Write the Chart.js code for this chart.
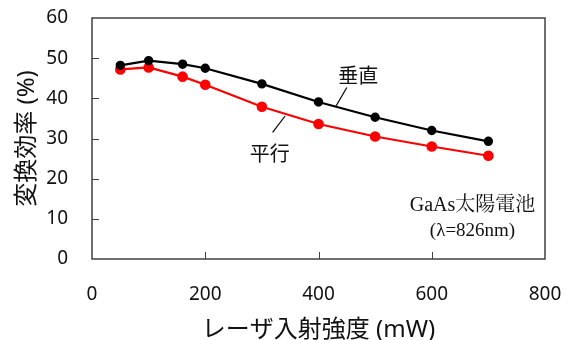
<!DOCTYPE html>
<html><head><meta charset="utf-8">
<script src="https://cdn.jsdelivr.net/npm/chart.js@4/dist/chart.umd.min.js"></script>
<style>html,body{margin:0;padding:0;background:#fff}#wrap{width:572px;height:340px}</style>
</head><body><div id="wrap"><canvas id="c" width="572" height="340"></canvas></div>
<script>
const power = [50, 100, 160, 200, 300, 400, 500, 600, 700];
const vertical = [48.2, 49.4, 48.5, 47.5, 43.6, 39.1, 35.3, 32.0, 29.3];
const parallel = [47.2, 47.7, 45.4, 43.4, 37.9, 33.6, 30.5, 28.0, 25.7];
const seriesNames = ['垂直', '平行'];
const xTicks = [0, 200, 400, 600, 800];
const yTicks = [0, 10, 20, 30, 40, 50, 60];
const xTitle = 'レーザ入射強度 (mW)';
const yTitle = '変換効率 (%)';
const noteLines = ['GaAs太陽電池', '(λ=826nm)'];
// label anchor and leader line in data coordinates
const labelPos = [{x: 470, y: 45.3}, {x: 314, y: 25.8}];
const leaders = [[{x: 431, y: 38.1}, {x: 450, y: 42.7}], [{x: 319, y: 31.5}, {x: 341, y: 35.6}]];
const notePos = {x: 672, y: 13.3};

const sans = '"Noto Sans", "Noto Sans CJK JP", sans-serif';
const serif = '"Liberation Serif", "Noto Serif CJK JP", "Noto Sans CJK JP", serif';

const decor = {
  id: 'decor',
  afterDatasetsDraw(chart) {
    const {ctx, chartArea: a, scales: {x, y}} = chart;
    ctx.save();
    ctx.strokeStyle = '#404040';
    ctx.lineWidth = 1.5;
    ctx.strokeRect(a.left, a.top, a.right - a.left, a.bottom - a.top);
    ctx.lineWidth = 1;
    ctx.beginPath();
    yTicks.slice(1, -1).forEach(v => { const p = Math.round(y.getPixelForValue(v)) + 0.5; ctx.moveTo(a.left, p); ctx.lineTo(a.left + 7, p); });
    xTicks.slice(1, -1).forEach(v => { const p = Math.round(x.getPixelForValue(v)) + 0.5; ctx.moveTo(p, a.bottom); ctx.lineTo(p, a.bottom - 7); });
    ctx.stroke();
    ctx.strokeStyle = '#000';
    ctx.lineWidth = 1.2;
    leaders.forEach(l => {
      ctx.beginPath();
      ctx.moveTo(x.getPixelForValue(l[0].x), y.getPixelForValue(l[0].y));
      ctx.lineTo(x.getPixelForValue(l[1].x), y.getPixelForValue(l[1].y));
      ctx.stroke();
    });
    ctx.fillStyle = '#111';
    ctx.textAlign = 'center';
    ctx.textBaseline = 'middle';
    ctx.font = '20px ' + sans;
    seriesNames.forEach((n, i) => ctx.fillText(n, x.getPixelForValue(labelPos[i].x), y.getPixelForValue(labelPos[i].y)));
    const nx = x.getPixelForValue(notePos.x), ny = y.getPixelForValue(notePos.y);
    ctx.font = '20px ' + serif;
    ctx.fillText(noteLines[0], nx, ny);
    ctx.font = '19px ' + serif;
    ctx.fillText(noteLines[1], nx, ny + 25);
    ctx.restore();
  }
};

new Chart(document.getElementById('c'), {
  type: 'line',
  data: {
    datasets: [
      {label: seriesNames[0], data: power.map((p, i) => ({x: p, y: vertical[i]})), borderColor: '#000', backgroundColor: '#000', borderWidth: 2.2, pointRadius: 3.6, pointHoverRadius: 3.6, tension: 0},
      {label: seriesNames[1], data: power.map((p, i) => ({x: p, y: parallel[i]})), borderColor: '#ff0000', backgroundColor: '#ff0000', borderWidth: 2.2, pointRadius: 4.2, pointHoverRadius: 4.2, tension: 0}
    ]
  },
  options: {
    responsive: false,
    animation: false,
    devicePixelRatio: 1,
    layout: {padding: {left: 0, right: 27, top: 18, bottom: 0}},
    plugins: {legend: {display: false}, tooltip: {enabled: false}},
    scales: {
      x: {
        type: 'linear', min: 0, max: 800,
        afterBuildTicks: s => { s.ticks = xTicks.map(v => ({value: v})); },
        afterFit: s => { s.height = 81; s.paddingLeft = 0; s.paddingRight = 0; },
        grid: {display: false, drawTicks: false},
        border: {display: false},
        ticks: {color: '#111', font: {family: sans, size: 19}, padding: 24, maxRotation: 0},
        title: {display: true, text: xTitle, color: '#111', font: {family: sans, size: 24}, padding: {top: 9, bottom: -5}}
      },
      y: {
        type: 'linear', min: 0, max: 60,
        afterBuildTicks: s => { s.ticks = yTicks.map(v => ({value: v})); },
        afterFit: s => { s.width = 92; s.paddingTop = 0; s.paddingBottom = 0; },
        grid: {display: false, drawTicks: false},
        border: {display: false},
        ticks: {color: '#111', font: {family: sans, size: 19}, padding: 24},
        title: {display: true, text: yTitle, color: '#111', font: {family: sans, size: 24}, padding: {top: 13, bottom: 0}}
      }
    }
  },
  plugins: [decor]
});
</script></body></html>
